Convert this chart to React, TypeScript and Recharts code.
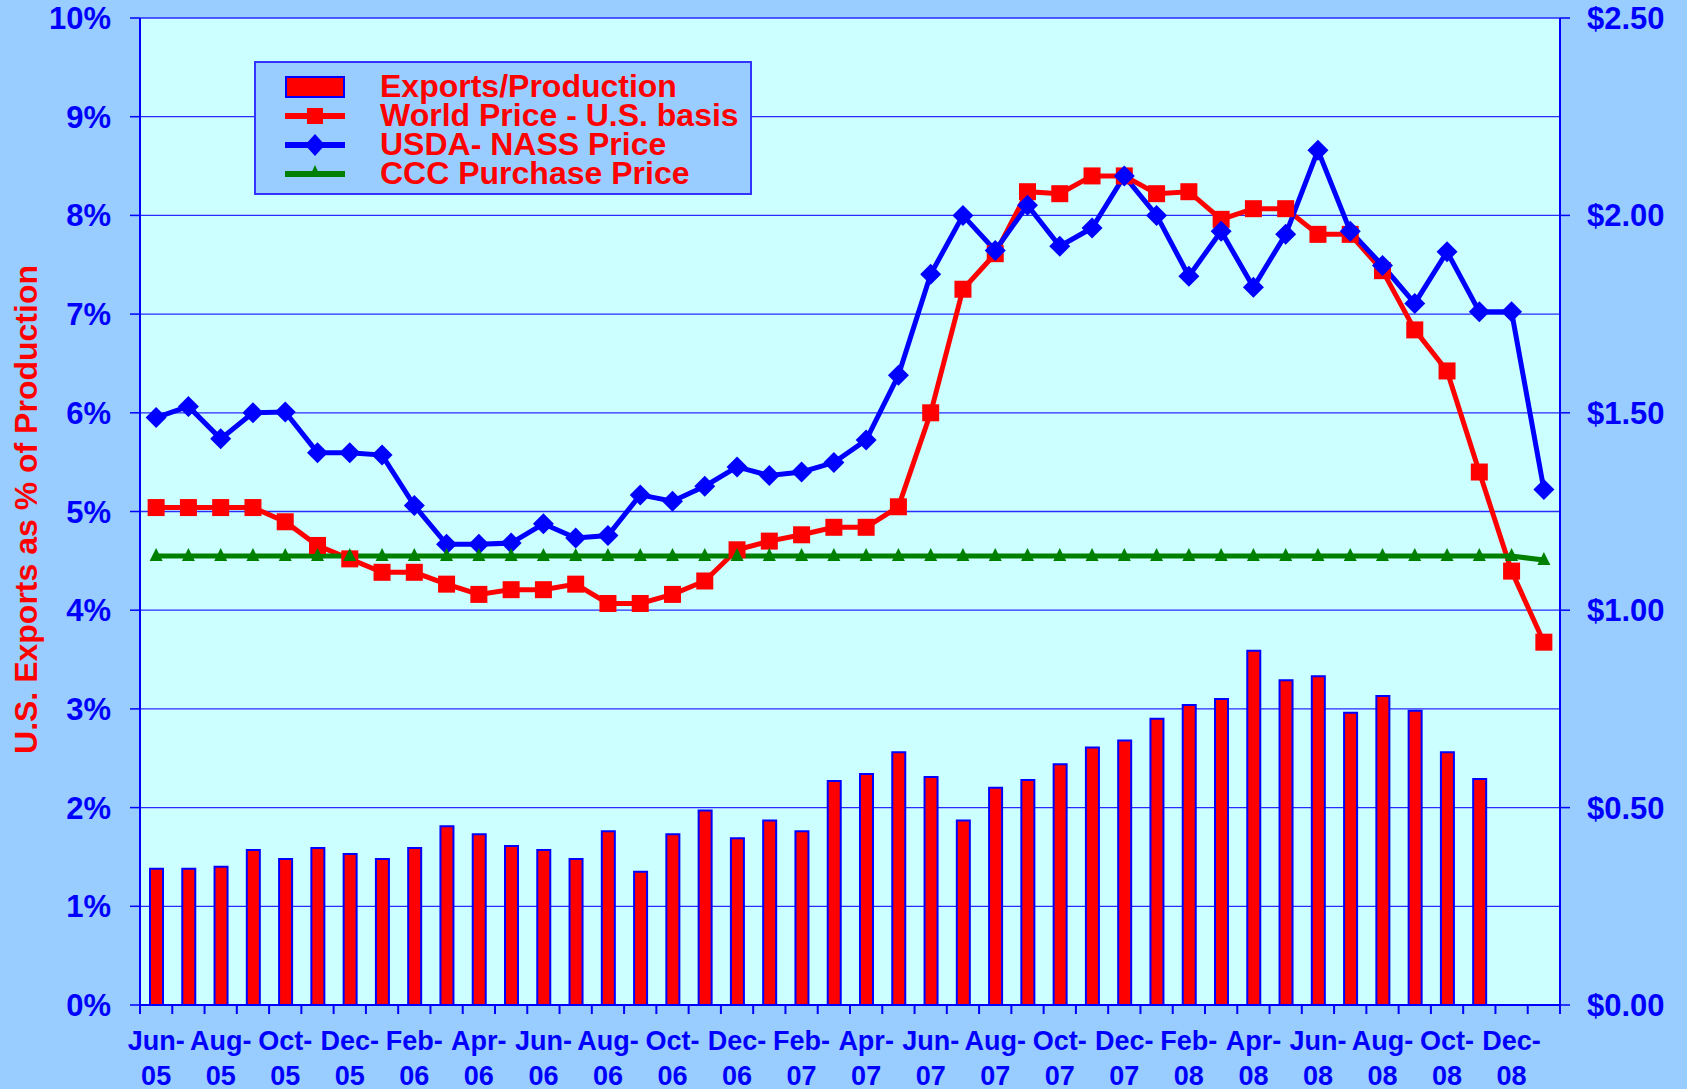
import React from 'react';
import { ComposedChart, Bar, Line, XAxis, YAxis, CartesianGrid, Legend } from 'recharts';

const months = [
  'Jun-05', 'Jul-05', 'Aug-05', 'Sep-05', 'Oct-05', 'Nov-05', 'Dec-05',
  'Jan-06', 'Feb-06', 'Mar-06', 'Apr-06', 'May-06', 'Jun-06', 'Jul-06', 'Aug-06', 'Sep-06', 'Oct-06', 'Nov-06', 'Dec-06',
  'Jan-07', 'Feb-07', 'Mar-07', 'Apr-07', 'May-07', 'Jun-07', 'Jul-07', 'Aug-07', 'Sep-07', 'Oct-07', 'Nov-07', 'Dec-07',
  'Jan-08', 'Feb-08', 'Mar-08', 'Apr-08', 'May-08', 'Jun-08', 'Jul-08', 'Aug-08', 'Sep-08', 'Oct-08', 'Nov-08', 'Dec-08',
  'Jan-09',
];

// % of production exported (left axis)
const exportsPct = [
  1.38, 1.38, 1.40, 1.57, 1.48, 1.59, 1.53,
  1.48, 1.59, 1.81, 1.73, 1.61, 1.57, 1.48, 1.76, 1.35, 1.73, 1.97, 1.69,
  1.87, 1.76, 2.27, 2.34, 2.56, 2.31, 1.87, 2.20, 2.28, 2.44, 2.61, 2.68,
  2.90, 3.04, 3.10, 3.59, 3.29, 3.33, 2.96, 3.13, 2.98, 2.56, 2.29, null,
  null,
];

// prices in $/lb (right axis)
const worldPrice = [
  1.26, 1.26, 1.26, 1.26, 1.224, 1.164, 1.13,
  1.096, 1.096, 1.066, 1.04, 1.052, 1.052, 1.066, 1.017, 1.017, 1.04, 1.074, 1.153,
  1.175, 1.191, 1.21, 1.21, 1.262, 1.50, 1.813, 1.903, 2.06, 2.055, 2.10, 2.10,
  2.055, 2.06, 1.99, 2.017, 2.017, 1.952, 1.952, 1.86, 1.71, 1.606, 1.35, 1.099,
  0.919,
];

const nassPrice = [
  1.488, 1.516, 1.434, 1.50, 1.502, 1.399, 1.399,
  1.393, 1.265, 1.167, 1.167, 1.17, 1.219, 1.183, 1.189, 1.292, 1.276, 1.314, 1.363,
  1.341, 1.35, 1.374, 1.431, 1.595, 1.851, 2.00, 1.911, 2.026, 1.922, 1.968, 2.10,
  2.00, 1.846, 1.96, 1.818, 1.952, 2.165, 1.96, 1.873, 1.777, 1.908, 1.756, 1.756,
  1.306,
];

const cccPrice = [
  1.137, 1.137, 1.137, 1.137, 1.137, 1.137, 1.137,
  1.137, 1.137, 1.137, 1.137, 1.137, 1.137, 1.137, 1.137, 1.137, 1.137, 1.137, 1.137,
  1.137, 1.137, 1.137, 1.137, 1.137, 1.137, 1.137, 1.137, 1.137, 1.137, 1.137, 1.137,
  1.137, 1.137, 1.137, 1.137, 1.137, 1.137, 1.137, 1.137, 1.137, 1.137, 1.137, 1.137,
  1.127,
];

const pctTicks = [0, 1, 2, 3, 4, 5, 6, 7, 8, 9, 10];
const priceTicks = [0, 0.5, 1, 1.5, 2, 2.5];

const data = months.map((m, i) => ({
  month: m,
  exports: exportsPct[i],
  world: worldPrice[i],
  nass: nassPrice[i],
  ccc: cccPrice[i],
}));

const W = 1687;
const H = 1089;
const LEFT_W = 140;
const RIGHT_W = 127;
const TOP = 18;
const XAXIS_H = 84;
const PLOT_W = W - LEFT_W - RIGHT_W;
const BAND = PLOT_W / months.length;

const FONT = '"Liberation Sans", Arial, Helvetica, sans-serif';
const BLUE = '#0000FF';
const RED = '#FF0000';
const GREEN = '#008000';
const OUTER_BG = '#99CCFF';
const PLOT_BG = '#CCFFFF';

const XTick = (props: any) => {
  const { x, y, payload } = props;
  const index = props.index ?? payload.index;
  const half = BAND / 2;
  const [mon, yr] = String(payload.value).split('-');
  return (
    <g>
      <line x1={x - half} y1={y} x2={x - half} y2={y + 9} stroke={BLUE} strokeWidth={2} />
      {index === months.length - 1 && (
        <line x1={x + half} y1={y} x2={x + half} y2={y + 9} stroke={BLUE} strokeWidth={2} />
      )}
      {index % 2 === 0 && (
        <text x={x} y={y} textAnchor="middle" fill={BLUE} fontSize={27} fontWeight="bold" fontFamily={FONT}>
          <tspan x={x} dy={45}>{mon}-</tspan>
          <tspan x={x} dy={35}>{yr}</tspan>
        </text>
      )}
    </g>
  );
};

const SquareDot = (props: any) => {
  const { cx, cy, index } = props;
  if (cx == null || cy == null) return <g key={`sq-${index}`} />;
  return <rect key={`sq-${index}`} x={cx - 8.5} y={cy - 8.5} width={17} height={17} fill={RED} />;
};

const DiamondDot = (props: any) => {
  const { cx, cy, index } = props;
  if (cx == null || cy == null) return <g key={`dm-${index}`} />;
  const r = 10.5;
  return (
    <polygon
      key={`dm-${index}`}
      points={`${cx},${cy - r} ${cx + r},${cy} ${cx},${cy + r} ${cx - r},${cy}`}
      fill={BLUE}
    />
  );
};

const TriangleDot = (props: any) => {
  const { cx, cy, index } = props;
  if (cx == null || cy == null) return <g key={`tr-${index}`} />;
  return (
    <polygon
      key={`tr-${index}`}
      points={`${cx},${cy - 8} ${cx + 6.5},${cy + 5} ${cx - 6.5},${cy + 5}`}
      fill={GREEN}
    />
  );
};

const YTitle = (props: any) => {
  const vb = props.viewBox || {};
  const cx = 26;
  const cy = (vb.y ?? TOP) + (vb.height ?? 987) / 2 - 2;
  return (
    <text
      x={cx}
      y={cy}
      transform={`rotate(-90, ${cx}, ${cy})`}
      textAnchor="middle"
      dominantBaseline="central"
      fill={RED}
      fontSize={32}
      fontWeight="bold"
      fontFamily={FONT}
    >
      U.S. Exports as % of Production
    </text>
  );
};

const legendItems = [
  { name: 'Exports/Production', kind: 'bar' },
  { name: 'World Price - U.S. basis', kind: 'square' },
  { name: 'USDA- NASS Price', kind: 'diamond' },
  { name: 'CCC Purchase Price', kind: 'triangle' },
];

const LegendIcon = ({ kind }: { kind: string }) => {
  if (kind === 'bar') {
    return (
      <svg width={60} height={24}>
        <rect x={1} y={2} width={58} height={20} fill={RED} stroke={BLUE} strokeWidth={2} />
      </svg>
    );
  }
  const color = kind === 'square' ? RED : kind === 'diamond' ? BLUE : GREEN;
  return (
    <svg width={60} height={24}>
      <line x1={0} y1={12} x2={60} y2={12} stroke={color} strokeWidth={6} />
      {kind === 'square' && <rect x={22} y={4} width={16} height={16} fill={RED} />}
      {kind === 'diamond' && <polygon points="30,1 40,12 30,23 20,12" fill={BLUE} />}
      {kind === 'triangle' && <polygon points="30,3 35.5,15 24.5,15" fill={GREEN} />}
    </svg>
  );
};

const renderLegend = () => (
  <div
    style={{
      width: 498,
      height: 134,
      boxSizing: 'border-box',
      background: OUTER_BG,
      border: '2px solid #3333FF',
      paddingTop: 9,
      fontFamily: FONT,
    }}
  >
    {legendItems.map((item) => (
      <div key={item.name} style={{ display: 'flex', alignItems: 'center', height: 29 }}>
        <div style={{ width: 60, marginLeft: 29, height: 24 }}>
          <LegendIcon kind={item.kind} />
        </div>
        <span
          style={{
            marginLeft: 35,
            color: RED,
            fontSize: 32,
            fontWeight: 'bold',
            lineHeight: '29px',
            whiteSpace: 'nowrap',
          }}
        >
          {item.name}
        </span>
      </div>
    ))}
  </div>
);

export default function App() {
  return (
    <div style={{ position: 'absolute', left: 0, top: 0, width: W, height: H, background: OUTER_BG }}>
      <ComposedChart width={W} height={H} data={data} margin={{ top: TOP, right: 0, bottom: 0, left: 0 }}>
        <CartesianGrid
          yAxisId="left"
          vertical={false}
          fill={PLOT_BG}
          stroke="#2a2aff"
          strokeWidth={1.3}
        />
        <XAxis
          dataKey="month"
          height={XAXIS_H}
          interval={0}
          tickSize={0}
          tickMargin={0}
          tickLine={false}
          tick={<XTick />}
          axisLine={{ stroke: BLUE, strokeWidth: 2 }}
        />
        <YAxis
          yAxisId="left"
          width={LEFT_W}
          domain={[0, 10]}
          ticks={pctTicks}
          interval={0}
          tickFormatter={(v: number) => `${v}%`}
          tickSize={10}
          tickMargin={19}
          tickLine={{ stroke: BLUE, strokeWidth: 1.5 }}
          axisLine={{ stroke: BLUE, strokeWidth: 2 }}
          tick={{ fill: BLUE, fontSize: 31, fontWeight: 'bold', fontFamily: FONT }}
          label={<YTitle />}
        />
        <YAxis
          yAxisId="right"
          orientation="right"
          width={RIGHT_W}
          domain={[0, 2.5]}
          ticks={priceTicks}
          interval={0}
          tickFormatter={(v: number) => `$${v.toFixed(2)}`}
          tickSize={10}
          tickMargin={17}
          tickLine={{ stroke: BLUE, strokeWidth: 1.5 }}
          axisLine={{ stroke: BLUE, strokeWidth: 2 }}
          tick={{ fill: BLUE, fontSize: 31, fontWeight: 'bold', fontFamily: FONT }}
        />
        <Legend
          content={renderLegend}
          layout="vertical"
          align="center"
          verticalAlign="middle"
          wrapperStyle={{ position: 'absolute', left: 254, top: 61, width: 498, height: 134 }}
        />
        <Bar
          yAxisId="left"
          dataKey="exports"
          name="Exports/Production"
          barSize={13}
          fill={RED}
          stroke={BLUE}
          strokeWidth={2}
          isAnimationActive={false}
        />
        <Line
          yAxisId="right"
          type="linear"
          dataKey="world"
          name="World Price - U.S. basis"
          stroke={RED}
          strokeWidth={5}
          dot={SquareDot}
          activeDot={false}
          isAnimationActive={false}
        />
        <Line
          yAxisId="right"
          type="linear"
          dataKey="nass"
          name="USDA- NASS Price"
          stroke={BLUE}
          strokeWidth={5}
          dot={DiamondDot}
          activeDot={false}
          isAnimationActive={false}
        />
        <Line
          yAxisId="right"
          type="linear"
          dataKey="ccc"
          name="CCC Purchase Price"
          stroke={GREEN}
          strokeWidth={5}
          dot={TriangleDot}
          activeDot={false}
          isAnimationActive={false}
        />
      </ComposedChart>
    </div>
  );
}
